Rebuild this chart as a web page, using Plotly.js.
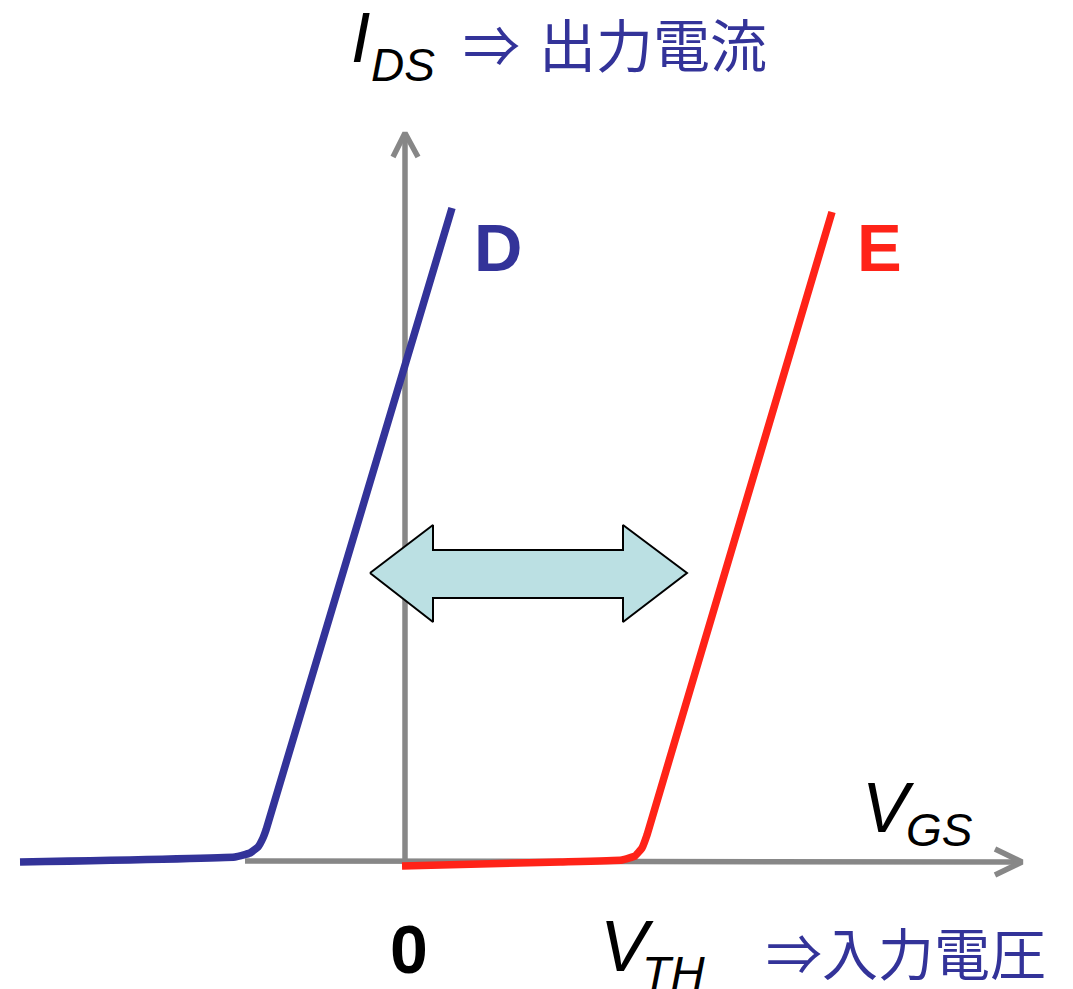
<!DOCTYPE html>
<html><head><meta charset="utf-8">
<script src="https://cdn.plot.ly/plotly-3.0.1.min.js"></script>
<style>html,body{margin:0;padding:0;background:#fff}</style>
</head><body>
<div id="chart" style="width:1073px;height:989px"></div>
<script>
// D (depletion) curve: VGS vs IDS (arbitrary units)
const dVgs = [-3.85, -1.70, -1.55, -1.47, -1.42, -1.39, 0.47];
const dIds = [-0.01, 0.04, 0.08, 0.14, 0.23, 0.31, 6.53];
// E (enhancement) curve
const eVgs = [-0.03, 1.55, 2.17, 2.30, 2.37, 2.42, 4.27];
const eIds = [-0.05, -0.01, 0.01, 0.05, 0.13, 0.26, 6.49];
// axes with chevron arrow heads
const yAxisX = [0, 0, null, -0.12, 0, 0.13];
const yAxisY = [0, 7.28, null, 7.04, 7.28, 7.04];
const xAxisX = [-1.6, 6.17, null, 5.90, 6.17, 5.90];
const xAxisY = [0, -0.01, null, 0.12, -0.01, -0.14];
// double arrow (threshold shift)
const arrowX = [-0.35, 0.28, 0.28, 2.18, 2.18, 2.82, 2.18, 2.18, 0.28, 0.28, -0.35];
const arrowY = [2.88, 3.36, 3.11, 3.11, 3.36, 2.88, 2.39, 2.63, 2.63, 2.39, 2.88];

const W = 1073, H = 989;
const BLUE = '#333399', RED = '#ff2318', GRAY = '#878787';
const LAT = 'Liberation Sans, Arial, sans-serif';
const CJK = 'Noto Sans CJK JP, sans-serif';

const traces = [
  {x: xAxisX, y: xAxisY, mode: 'lines', line: {color: GRAY, width: 5.5}, hoverinfo: 'skip'},
  {x: yAxisX, y: yAxisY, mode: 'lines', line: {color: GRAY, width: 5.5}, hoverinfo: 'skip'},
  {x: dVgs, y: dIds, mode: 'lines', line: {color: BLUE, width: 7.5, shape: 'spline', smoothing: 0.3}, hoverinfo: 'skip'},
  {x: eVgs, y: eIds, mode: 'lines', line: {color: RED, width: 7.5, shape: 'spline', smoothing: 0.3}, hoverinfo: 'skip'},
  {x: arrowX, y: arrowY, mode: 'lines', fill: 'toself', fillcolor: '#bbe0e3', line: {color: '#000', width: 2}, hoverinfo: 'skip'}
];

function ann(text, xpx, ypx, size, color, family, extra) {
  return Object.assign({
    text: text, xref: 'paper', yref: 'paper', x: xpx / W, y: 1 - ypx / H,
    xanchor: 'left', yanchor: 'middle', showarrow: false,
    font: {size: size, color: color, family: family}
  }, extra || {});
}

const annotations = [
  ann('<i>I</i>', 349, 38, 70, '#000', LAT),
  ann('<i>DS</i>', 369, 65, 46, '#000', LAT),
  ann('⇒', 461, 42, 57, BLUE, CJK),
  ann('出力電流', 537, 42, 57, BLUE, CJK),
  ann('<b>D</b>', 472, 247, 67, BLUE, LAT),
  ann('<b>E</b>', 855, 247, 67, RED, LAT),
  ann('<i>V</i>', 860, 808, 70, '#000', LAT),
  ann('<i>GS</i>', 904, 830, 46, '#000', LAT),
  ann('<b>0</b>', 388, 949, 68, '#000', LAT),
  ann('<i>V</i>', 598, 946, 72, '#000', LAT),
  ann('<i>TH</i>', 640, 972, 47, '#000', LAT),
  ann('⇒入力電圧', 764, 950, 56, BLUE, CJK)
];

const layout = {
  width: W, height: H,
  margin: {l: 0, r: 0, t: 0, b: 0},
  paper_bgcolor: '#fff', plot_bgcolor: '#fff',
  showlegend: false,
  xaxis: {range: [-4.05, 6.68], visible: false, fixedrange: true},
  yaxis: {range: [-1.28, 8.61], visible: false, fixedrange: true},
  annotations: annotations
};

Plotly.newPlot('chart', traces, layout, {staticPlot: true, displayModeBar: false});
</script>
</body></html>
